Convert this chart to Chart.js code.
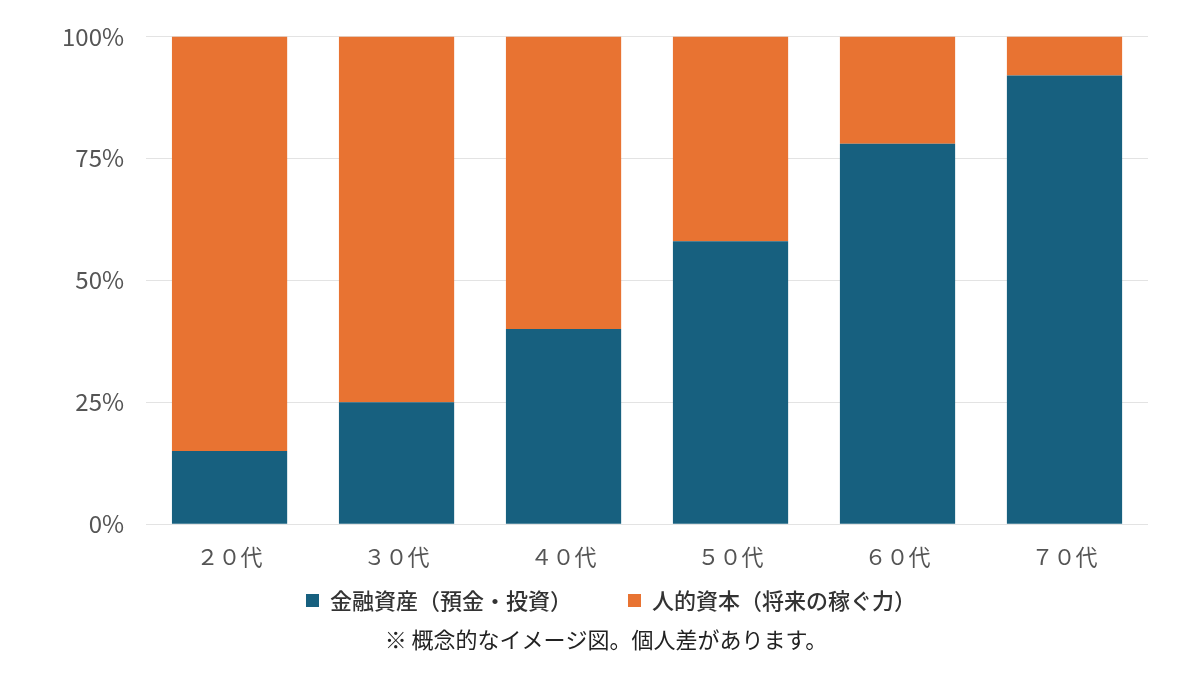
<!DOCTYPE html>
<html>
<head>
<meta charset="utf-8">
<script src="https://cdn.jsdelivr.net/npm/chart.js@4"></script>
<style>
  html, body { margin: 0; padding: 0; background: #fff; }
  #wrap { width: 1200px; height: 675px; }
</style>
</head>
<body>
<div id="wrap"><canvas id="chart" width="1200" height="675"></canvas></div>
<script>
// age groups
const ageLabels = ["２０代", "３０代", "４０代", "５０代", "６０代", "７０代"];
// share of total wealth (%)
const financialAssets = [15, 25, 40, 58, 78, 92];
const humanCapital = [85, 75, 60, 42, 22, 8];
const yTicks = [0, 25, 50, 75, 100];

const jpFont = "'Noto Sans CJK JP', 'Noto Sans', sans-serif";

// legend padding sets both the spacing between items and the gap above them;
// keep the wide item spacing but give the legend a short box close to the axis
const LEGEND_PAD = 56;
const LEGEND_TOP_GAP = 9;
const LEGEND_HEIGHT = 33;
const legendGap = {
  id: "legendGap",
  beforeLayout(chart) {
    const lg = chart.legend;
    if (lg && !lg._gapPatched) {
      const origFit = lg.fit.bind(lg);
      lg.fit = function () {
        origFit();
        this.height = LEGEND_HEIGHT;
      };
      lg._gapPatched = true;
    }
  },
  afterLayout(chart) {
    const lg = chart.legend;
    if (lg) {
      lg.top -= LEGEND_PAD - LEGEND_TOP_GAP;
      lg.left += 17;
      lg.right += 17;
    }
    const tb = chart.titleBlock;
    if (tb) {
      tb.left += 12;
      tb.right += 12;
    }
  },
};

const ctx = document.getElementById("chart").getContext("2d");
new Chart(ctx, {
  type: "bar",
  data: {
    labels: ageLabels,
    datasets: [
      {
        label: "金融資産（預金・投資）",
        data: financialAssets,
        backgroundColor: "#17607f",
        categoryPercentage: 0.69,
        barPercentage: 1.0,
      },
      {
        label: "人的資本（将来の稼ぐ力）",
        data: humanCapital,
        backgroundColor: "#e87332",
        categoryPercentage: 0.69,
        barPercentage: 1.0,
      },
    ],
  },
  plugins: [legendGap],
  options: {
    responsive: false,
    animation: false,
    layout: { padding: { left: 40, right: 52, top: 30, bottom: 22 } },
    scales: {
      x: {
        stacked: true,
        grid: { display: false },
        border: { display: false },
        ticks: { color: "#555", font: { family: jpFont, size: 22 }, padding: 11 },
      },
      y: {
        stacked: true,
        min: 0,
        max: 100,
        afterBuildTicks: (axis) => {
          axis.ticks = yTicks.map((v) => ({ value: v }));
        },
        grid: { color: "#e3e3e3", drawTicks: false },
        border: { display: false },
        ticks: {
          color: "#555",
          font: { family: jpFont, size: 24 },
          padding: 22,
          callback: (v) => v + "%",
        },
      },
    },
    plugins: {
      legend: {
        position: "bottom",
        labels: {
          boxWidth: 13,
          boxHeight: 13,
          padding: LEGEND_PAD,
          color: "#333",
          font: { family: jpFont, size: 22, weight: "500" },
        },
      },
      title: {
        display: true,
        position: "bottom",
        text: "※ 概念的なイメージ図。個人差があります。",
        color: "#222",
        font: { family: jpFont, size: 22, weight: "normal" },
        padding: { top: 13, bottom: 0 },
      },
      tooltip: { enabled: false },
    },
  },
});
</script>
</body>
</html>
